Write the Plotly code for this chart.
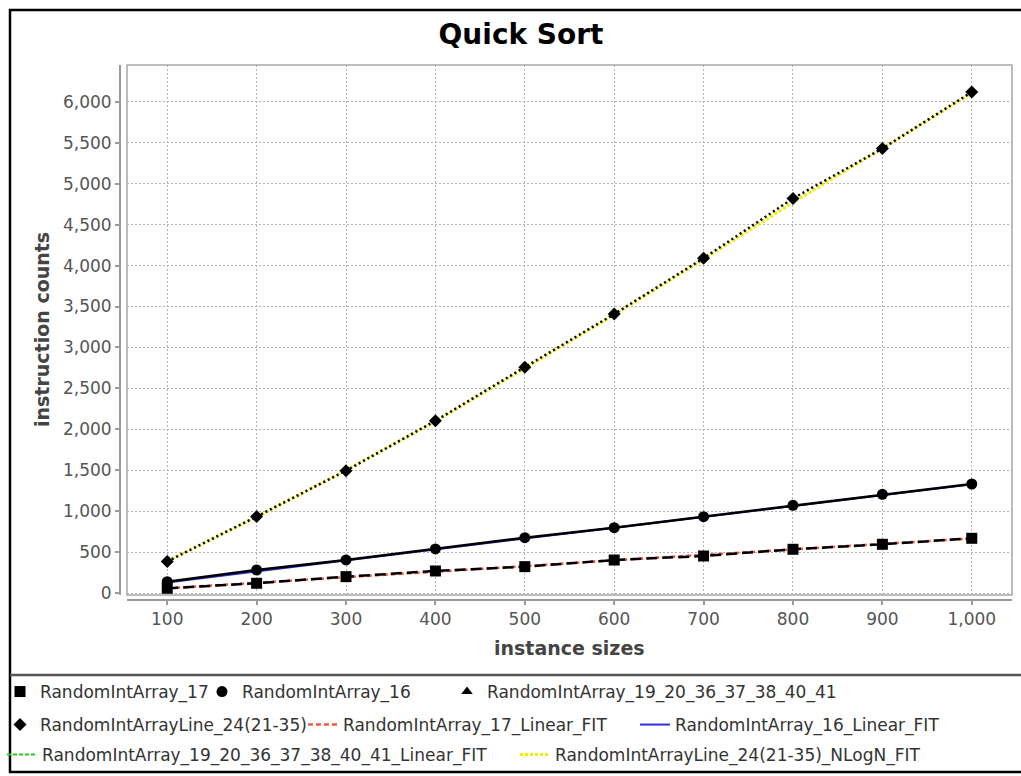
import plotly.graph_objects as go

# ---------------- data ----------------
sizes = [100, 200, 300, 400, 500, 600, 700, 800, 900, 1000]
arr17 = [61, 122, 203, 272, 325, 406, 455, 537, 598, 671]
arr16 = [142, 284, 407, 541, 679, 801, 935, 1074, 1208, 1334]
# series 19_20_36_... shows no visible points in the reference
arr19 = [None, None, None, None, None, None, None, None, None, None]
line24 = [389, 937, 1497, 2105, 2760, 3408, 4090, 4820, 5428, 6118]

fit17 = [60, 126, 196, 266, 332, 402, 468, 536, 602, 670]
fit16 = [132, 268, 402, 536, 668, 800, 932, 1066, 1200, 1332]
fit19 = [None, None, None, None, None, None, None, None, None, None]
fit24 = [390, 930, 1500, 2100, 2745, 3400, 4075, 4770, 5430, 6105]

x_ticks = [100, 200, 300, 400, 500, 600, 700, 800, 900, 1000]
y_ticks = [0, 500, 1000, 1500, 2000, 2500, 3000, 3500, 4000, 4500, 5000, 5500, 6000]

names = {
    "a17": "RandomIntArray_17",
    "a16": "RandomIntArray_16",
    "a19": "RandomIntArray_19_20_36_37_38_40_41",
    "l24": "RandomIntArrayLine_24(21-35)",
    "f17": "RandomIntArray_17_Linear_FIT",
    "f16": "RandomIntArray_16_Linear_FIT",
    "f19": "RandomIntArray_19_20_36_37_38_40_41_Linear_FIT",
    "f24": "RandomIntArrayLine_24(21-35)_NLogN_FIT",
}

FONT = "DejaVu Sans"
fig = go.Figure()

# fit lines (drawn underneath)
fig.add_trace(go.Scatter(x=sizes, y=fit17, mode="lines", name=names["f17"],
                         line=dict(color="#f05a4a", width=2.5, dash="5px,3px"),
                         legend="legend5"))
fig.add_trace(go.Scatter(x=sizes, y=fit16, mode="lines", name=names["f16"],
                         line=dict(color="#3030d8", width=2),
                         legend="legend6"))
fig.add_trace(go.Scatter(x=sizes, y=fit19, mode="lines", name=names["f19"],
                         line=dict(color="#22cc22", width=2, dash="4px,2px"),
                         legend="legend7"))
fig.add_trace(go.Scatter(x=sizes, y=fit24, mode="lines", name=names["f24"],
                         line=dict(color="#f0f000", width=3, dash="3px,2px"),
                         legend="legend8"))

# black data lines
fig.add_trace(go.Scatter(x=sizes, y=arr17, mode="lines", showlegend=False,
                         line=dict(color="black", width=2.5, dash="11px,5px")))
fig.add_trace(go.Scatter(x=sizes, y=arr16, mode="lines", showlegend=False,
                         line=dict(color="black", width=2.5)))
fig.add_trace(go.Scatter(x=sizes, y=line24, mode="lines", showlegend=False,
                         line=dict(color="black", width=2.5, dash="2px,3px")))

# markers (legend entries)
fig.add_trace(go.Scatter(x=sizes, y=arr17, mode="markers", name=names["a17"],
                         marker=dict(symbol="square", size=11, color="black"),
                         legend="legend"))
fig.add_trace(go.Scatter(x=sizes, y=arr16, mode="markers", name=names["a16"],
                         marker=dict(symbol="circle", size=11, color="black"),
                         legend="legend2"))
fig.add_trace(go.Scatter(x=sizes, y=arr19, mode="markers", name=names["a19"],
                         marker=dict(symbol="triangle-up", size=10, color="black"),
                         legend="legend3"))
fig.add_trace(go.Scatter(x=sizes, y=line24, mode="markers", name=names["l24"],
                         marker=dict(symbol="diamond", size=10, color="black"),
                         legend="legend4"))

# pixel -> paper helpers (plot region: l=120, width 892; y0=600, height 535)
def px(xp):
    return (xp - 120) / 892.0

def py(yp):
    return (600 - yp) / 535.0

grid = dict(showgrid=True, gridcolor="#b4b4b4", gridwidth=1, griddash="2px,2px")
tickfont = dict(family=FONT, size=17, color="#555555")

# one legend box per entry, placed like the reference legend rows
# (text-start x in px, row centre y in px)
legend_spots = {
    "legend": (40, 692), "legend2": (242, 692), "legend3": (487, 692),
    "legend4": (40, 725), "legend5": (343, 725), "legend6": (675, 725),
    "legend7": (42, 755), "legend8": (555, 755),
}
legend_layouts = {}
for key, (tx, ty) in legend_spots.items():
    legend_layouts[key] = dict(
        orientation="h", xref="container", yref="container",
        x=(tx - 40) / 1021, xanchor="left", y=1 - ty / 776, yanchor="middle",
        font=dict(family=FONT, size=17, color="#333333"),
        bgcolor="rgba(0,0,0,0)", itemwidth=30)

fig.update_layout(
    width=1021, height=776,
    margin=dict(l=120, r=9, t=65, b=176),
    paper_bgcolor="white", plot_bgcolor="white",
    font=dict(family=FONT, color="#333333"),
    title=dict(text="Quick Sort", x=521 / 1021, xref="container", xanchor="center",
               y=1 - 34 / 776, yref="container", yanchor="middle",
               font=dict(family=FONT, size=28, color="black", weight="bold")),
    xaxis=dict(domain=[px(127), 1], anchor="free", position=0,
               range=[55, 1045], tickmode="array", tickvals=x_ticks,
               tickformat=",d", tickfont=tickfont,
               showline=True, linecolor="#9a9a9a", linewidth=2,
               ticks="outside", ticklen=4, tickcolor="#9a9a9a", tickwidth=1.5,
               zeroline=False, automargin=False, **grid),
    yaxis=dict(domain=[py(595), 1], anchor="free", position=0,
               range=[-21, 6448], tickmode="array", tickvals=y_ticks,
               tickformat=",d", tickfont=tickfont,
               showline=True, linecolor="#9a9a9a", linewidth=2,
               ticks="outside", ticklen=4, tickcolor="#9a9a9a", tickwidth=1.5,
               zeroline=False, automargin=False, **grid),
    annotations=[
        dict(text="instance sizes", xref="paper", yref="paper",
             x=(px(127) + 1) / 2, y=py(648), xanchor="center", yanchor="middle",
             showarrow=False, font=dict(family=FONT, size=19, color="#444444", weight="bold")),
        dict(text="instruction counts", xref="paper", yref="paper",
             x=px(42), y=(py(595) + 1) / 2, xanchor="center", yanchor="middle",
             textangle=-90, showarrow=False,
             font=dict(family=FONT, size=19, color="#444444", weight="bold")),
    ],
    shapes=[
        # plot-area outline
        dict(type="rect", xref="paper", yref="paper", x0=px(127), x1=1, y0=py(595), y1=1,
             line=dict(color="#a8a8a8", width=1.5), layer="above"),
        # outer chart frame
        dict(type="rect", xref="paper", yref="paper", x0=px(10), x1=px(1030), y0=py(772), y1=py(10),
             line=dict(color="black", width=2.5)),
        # legend separator
        dict(type="line", xref="paper", yref="paper", x0=px(10), x1=px(1030), y0=py(675), y1=py(675),
             line=dict(color="#555555", width=2.5)),
    ],
    **legend_layouts,
)

fig.write_html("out.html")
